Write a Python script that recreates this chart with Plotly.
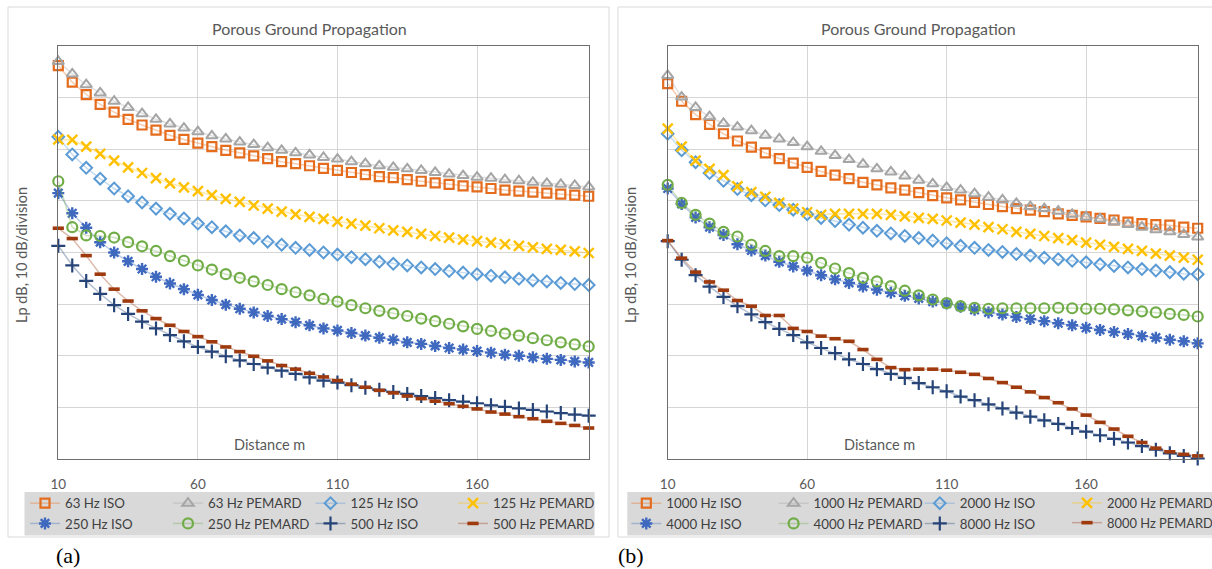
import plotly.graph_objects as go

W, H = 1212, 569

# Distance from the source (m)
distance_m = [10, 15, 20, 25, 30, 35, 40, 45, 50, 55, 60, 65, 70, 75, 80, 85, 90, 95, 100,
              105, 110, 115, 120, 125, 130, 135, 140, 145, 150, 155, 160, 165, 170, 175,
              180, 185, 190, 195, 200]
x_ticks = [10, 60, 110, 160]

# ---- Panel (a): low frequencies, Lp in dB ----
lp_63_iso = [76.2, 73.0, 70.6, 68.7, 67.2, 65.8, 64.7, 63.7, 62.7, 61.9, 61.2, 60.5, 59.8, 59.3,
             58.7, 58.2, 57.6, 57.2, 56.8, 56.3, 55.9, 55.5, 55.1, 54.7, 54.5, 54.1, 53.8, 53.5,
             53.2, 52.9, 52.7, 52.4, 52.1, 51.9, 51.7, 51.5, 51.3, 51.1, 50.9]
lp_63_pemard = [77.0, 74.6, 72.5, 70.9, 69.3, 68.1, 66.9, 65.8, 64.9, 64.1, 63.4, 62.6, 62.0, 61.4,
                60.9, 60.3, 59.8, 59.3, 58.9, 58.4, 58.1, 57.6, 57.2, 56.8, 56.5, 56.2, 55.9, 55.5,
                55.2, 54.9, 54.6, 54.4, 54.1, 53.9, 53.6, 53.4, 53.2, 53.0, 52.7]
lp_125_iso = [62.4, 59.0, 56.4, 54.3, 52.4, 50.9, 49.7, 48.5, 47.5, 46.6, 45.6, 44.9, 44.1, 43.3,
              42.8, 42.1, 41.5, 40.9, 40.5, 40.0, 39.6, 39.1, 38.7, 38.2, 37.8, 37.5, 37.1, 36.8,
              36.4, 36.1, 35.8, 35.5, 35.2, 34.9, 34.6, 34.4, 34.1, 33.9, 33.7]
lp_125_pemard = [61.9, 61.8, 60.5, 59.1, 57.8, 56.5, 55.4, 54.4, 53.4, 52.6, 51.9, 51.1, 50.4, 49.8,
                 49.1, 48.5, 47.9, 47.4, 46.9, 46.5, 46.0, 45.6, 45.2, 44.7, 44.3, 44.0, 43.6, 43.2,
                 42.9, 42.5, 42.2, 41.9, 41.6, 41.3, 41.0, 40.7, 40.5, 40.2, 39.9]
lp_250_iso = [51.5, 47.6, 44.8, 42.0, 40.0, 38.3, 36.8, 35.3, 34.0, 32.9, 31.8, 30.8, 29.9, 29.1,
              28.4, 27.7, 27.1, 26.5, 25.9, 25.3, 24.9, 24.4, 23.9, 23.5, 23.1, 22.6, 22.3, 21.9,
              21.5, 21.2, 20.9, 20.6, 20.2, 20.0, 19.7, 19.4, 19.2, 18.9, 18.7]
lp_250_pemard = [53.8, 44.9, 43.3, 43.2, 42.9, 42.0, 41.2, 40.3, 39.3, 38.4, 37.5, 36.7, 35.8, 35.1,
                 34.4, 33.7, 32.9, 32.3, 31.7, 31.0, 30.5, 29.8, 29.2, 28.7, 28.2, 27.7, 27.2, 26.7,
                 26.2, 25.7, 25.2, 24.8, 24.3, 23.9, 23.4, 23.0, 22.6, 22.2, 21.8]
lp_500_iso = [41.3, 37.5, 34.5, 32.0, 29.8, 28.1, 26.6, 25.3, 24.0, 22.8, 21.7, 20.8, 19.9, 19.1,
              18.4, 17.7, 17.1, 16.5, 15.8, 15.2, 14.8, 14.3, 13.8, 13.4, 13.0, 12.6, 12.2, 11.8,
              11.4, 11.1, 10.8, 10.4, 10.1, 9.8, 9.5, 9.2, 8.9, 8.6, 8.4]
lp_500_pemard = [44.7, 42.7, 39.4, 35.8, 32.9, 30.6, 28.7, 27.2, 25.9, 24.7, 23.7, 22.7, 21.7, 20.8,
                 19.9, 19.0, 18.1, 17.4, 16.6, 15.9, 15.2, 14.5, 13.9, 13.3, 12.8, 12.2, 11.7, 11.2,
                 10.7, 10.2, 9.7, 9.1, 8.7, 8.2, 7.8, 7.3, 6.9, 6.5, 6.0]

# ---- Panel (b): high frequencies, Lp in dB ----
lp_1000_iso = [72.7, 69.3, 66.7, 64.8, 63.0, 61.6, 60.4, 59.3, 58.2, 57.3, 56.5, 55.7, 55.0, 54.3,
               53.6, 53.1, 52.5, 52.1, 51.6, 51.0, 50.6, 50.2, 49.7, 49.3, 48.9, 48.5, 48.2, 47.9,
               47.5, 47.2, 46.9, 46.6, 46.3, 45.9, 45.6, 45.4, 45.3, 44.9, 44.7]
lp_1000_pemard = [74.3, 70.1, 68.1, 66.3, 65.0, 64.3, 63.6, 62.7, 62.0, 61.3, 60.5, 59.6, 58.8, 58.0,
                  57.1, 56.2, 55.6, 54.8, 54.0, 53.3, 52.6, 52.1, 51.4, 50.7, 50.2, 49.5, 48.9, 48.5,
                  48.0, 47.4, 46.9, 46.5, 45.9, 45.4, 44.9, 44.4, 44.0, 43.5, 43.0]
lp_2000_iso = [63.0, 59.8, 57.5, 55.4, 53.9, 52.3, 51.1, 50.1, 49.2, 48.3, 47.4, 46.7, 46.1, 45.4,
               44.8, 44.2, 43.7, 43.2, 42.8, 42.3, 41.8, 41.3, 40.9, 40.5, 40.1, 39.7, 39.4, 39.0,
               38.7, 38.4, 38.1, 37.7, 37.4, 37.1, 36.8, 36.5, 36.2, 35.9, 35.8]
lp_2000_pemard = [64.0, 60.5, 57.8, 56.2, 55.0, 52.8, 51.7, 50.8, 49.6, 48.5, 47.8, 47.3, 47.5, 47.5,
                  47.5, 47.5, 47.3, 47.0, 46.7, 46.5, 46.2, 45.8, 45.4, 44.9, 44.5, 44.0, 43.6, 43.2,
                  42.8, 42.4, 41.9, 41.5, 41.1, 40.7, 40.3, 39.8, 39.4, 39.0, 38.6]
lp_4000_iso = [52.4, 49.4, 46.8, 44.9, 43.4, 41.6, 40.4, 39.4, 38.2, 37.3, 36.5, 35.6, 34.8, 34.1,
               33.4, 32.8, 32.2, 31.6, 31.1, 30.5, 30.1, 29.5, 28.9, 28.4, 28.0, 27.5, 27.1, 26.7,
               26.3, 25.9, 25.4, 25.0, 24.6, 24.2, 23.8, 23.5, 23.1, 22.8, 22.4]
lp_4000_pemard = [53.1, 49.6, 47.3, 45.6, 44.0, 43.1, 41.5, 40.3, 39.3, 39.3, 39.0, 38.0, 36.9, 36.0,
                  35.1, 34.4, 33.5, 32.6, 31.7, 30.9, 30.2, 29.6, 29.3, 29.1, 29.2, 29.2, 29.2, 29.2,
                  29.3, 29.2, 29.1, 29.1, 29.0, 28.8, 28.6, 28.4, 28.1, 27.9, 27.6]
lp_8000_iso = [42.2, 38.6, 35.6, 33.4, 31.4, 29.6, 28.0, 26.5, 25.2, 24.0, 22.6, 21.5, 20.5, 19.3,
               18.4, 17.4, 16.5, 15.7, 14.7, 13.9, 13.1, 12.1, 11.4, 10.6, 9.8, 9.0, 8.2, 7.5,
               6.8, 6.0, 5.3, 4.6, 3.9, 3.2, 2.5, 1.8, 1.1, 0.6, 0.1]
lp_8000_pemard = [42.3, 38.9, 36.2, 34.3, 32.7, 30.7, 29.6, 27.8, 27.8, 25.3, 24.7, 23.8, 23.3, 22.8,
                  21.2, 19.3, 17.7, 17.3, 17.4, 17.4, 17.2, 16.8, 16.4, 15.6, 14.8, 13.9, 13.0, 11.9,
                  10.9, 9.7, 8.5, 7.1, 5.8, 4.4, 3.2, 2.1, 1.4, 0.9, 0.6]

names_a = ["63 Hz ISO", "63 Hz PEMARD", "125 Hz ISO", "125 Hz PEMARD",
           "250 Hz ISO", "250 Hz PEMARD", "500 Hz ISO", "500 Hz PEMARD"]
series_a = [lp_63_iso, lp_63_pemard, lp_125_iso, lp_125_pemard,
            lp_250_iso, lp_250_pemard, lp_500_iso, lp_500_pemard]
names_b = ["1000 Hz ISO", "1000 Hz PEMARD", "2000 Hz ISO", "2000 Hz PEMARD",
           "4000 Hz ISO", "4000 Hz PEMARD", "8000 Hz ISO", "8000 Hz PEMARD"]
series_b = [lp_1000_iso, lp_1000_pemard, lp_2000_iso, lp_2000_pemard,
            lp_4000_iso, lp_4000_pemard, lp_8000_iso, lp_8000_pemard]

# marker style per series slot: (symbol, colour, size, stroke width)
styles = [
    ("square-open", "#E46C1C", 9, 2.2),
    ("triangle-up-open", "#A5A5A5", 10, 2.0),
    ("diamond-open", "#5B9BD5", 9, 2.0),
    ("x-thin-open", "#FFC000", 10, 2.4),
    ("asterisk-open", "#3F69BE", 10, 2.4),
    ("circle-open", "#70AD47", 10, 2.2),
    ("cross-thin-open", "#264478", 10, 2.2),
    ("line-ew-open", "#9E3A0E", 8, 3.6),
]

FONT = "Lato, 'Open Sans', sans-serif"
TEXT_GREY = "#595959"


def rgba(hex_color, alpha):
    h = hex_color.lstrip("#")
    r, g, b = int(h[0:2], 16), int(h[2:4], 16), int(h[4:6], 16)
    return f"rgba({r},{g},{b},{alpha})"


def px(x):
    return x / W


def py(y):
    return 1 - y / H


# one small two-row legend per legend column; left edges in pixels
legend_cols_a = [25, 168, 310.5, 453]
legend_cols_b = [626.3, 773.6, 919.8, 1067]
legend_font_sizes = [13.3, 13.3, 13.3, 13.3, 13.3, 13.3, 13.3, 12.9]

fig = go.Figure()

panels = [
    (names_a, series_a, "x", "y", 0),
    (names_b, series_b, "x2", "y2", 4),
]
for names, series, xa, ya, leg_base in panels:
    for i, (name, values) in enumerate(zip(names, series)):
        sym, col, size, lw = styles[i]
        leg_no = leg_base + i % 4 + 1
        fig.add_trace(go.Scatter(
            x=distance_m, y=values, name=name, mode="lines+markers",
            xaxis=xa, yaxis=ya, legend="legend" if leg_no == 1 else f"legend{leg_no}",
            line=dict(color=rgba(col, 0.35), width=1.5),
            marker=dict(symbol=sym, size=size, color=col, line=dict(color=col, width=lw)),
            cliponaxis=False,
        ))

axis_common = dict(
    range=[10, 200], tickvals=x_ticks, ticks="outside", ticklen=13,
    tickcolor="rgba(0,0,0,0)", showgrid=True, gridcolor="#d6d6d6", gridwidth=1,
    showline=True, mirror=True, linecolor="#6e6e6e", linewidth=1, zeroline=False,
    tickfont=dict(family=FONT, size=13.5, color=TEXT_GREY),
)
yaxis_common = dict(
    range=[0, 80], dtick=10, showticklabels=False, showgrid=True, gridcolor="#d6d6d6",
    gridwidth=1, showline=True, mirror=True, linecolor="#6e6e6e", linewidth=1,
    zeroline=False, domain=[py(459), py(46)],
)

fig.update_layout(
    width=W, height=H,
    margin=dict(l=0, r=0, t=0, b=0, autoexpand=False),
    paper_bgcolor="white", plot_bgcolor="white",
    showlegend=True,
    xaxis=dict(domain=[px(58.3), px(588.7)], anchor="y", **axis_common),
    yaxis=dict(anchor="x", **yaxis_common),
    xaxis2=dict(domain=[px(667.7), px(1197.7)], anchor="y2", **axis_common),
    yaxis2=dict(anchor="x2", **yaxis_common),
)

legend_common = dict(
    orientation="v", xanchor="left", yanchor="top", y=py(488),
    bgcolor="rgba(0,0,0,0)", borderwidth=0, itemwidth=30, tracegroupgap=0,
    itemclick=False, itemdoubleclick=False,
)
legend_layout = {}
for k, left in enumerate(legend_cols_a + legend_cols_b):
    key = "legend" if k == 0 else f"legend{k + 1}"
    legend_layout[key] = dict(
        x=px(left), font=dict(family=FONT, size=legend_font_sizes[k], color="#404040"),
        **legend_common)
fig.update_layout(**legend_layout)

shapes = [
    # chart frames
    dict(type="rect", xref="paper", yref="paper", x0=px(8), x1=px(609), y0=py(537), y1=py(7),
         line=dict(color="#d9d9d9", width=1), layer="below"),
    dict(type="rect", xref="paper", yref="paper", x0=px(618), x1=px(1220), y0=py(537), y1=py(7),
         line=dict(color="#d9d9d9", width=1), layer="below"),
    # legend backgrounds
    dict(type="rect", xref="paper", yref="paper", x0=px(24.5), x1=px(594.6), y0=py(535.6),
         y1=py(492), fillcolor="#d9d9d9", line=dict(width=0), layer="below"),
    dict(type="rect", xref="paper", yref="paper", x0=px(627.3), x1=px(1220), y0=py(535.6),
         y1=py(492), fillcolor="#d9d9d9", line=dict(width=0), layer="below"),
]
fig.update_layout(shapes=shapes)

annotations = []
for title_x, ytitle_x, dist_x, tag, tag_x in [
    (309.5, 21, 269.5, "(a)", 68),
    (918.7, 630, 879.5, "(b)", 631),
]:
    annotations += [
        dict(text="Porous Ground Propagation", x=px(title_x), y=py(29), xref="paper", yref="paper",
             showarrow=False, xanchor="center", yanchor="middle",
             font=dict(family=FONT, size=16, color=TEXT_GREY)),
        dict(text="Lp dB, 10 dB/division", x=px(ytitle_x), y=py(255), xref="paper", yref="paper",
             showarrow=False, textangle=-90, xanchor="center", yanchor="middle",
             font=dict(family=FONT, size=14.5, color=TEXT_GREY)),
        dict(text="Distance m", x=px(dist_x), y=py(444), xref="paper", yref="paper",
             showarrow=False, xanchor="center", yanchor="middle",
             font=dict(family=FONT, size=14.5, color=TEXT_GREY)),
        dict(text=tag, x=px(tag_x), y=py(555), xref="paper", yref="paper",
             showarrow=False, xanchor="center", yanchor="middle",
             font=dict(family="'Liberation Serif', 'Times New Roman', serif", size=22, color="black")),
    ]
fig.update_layout(annotations=annotations)

fig.write_html("out.html")
